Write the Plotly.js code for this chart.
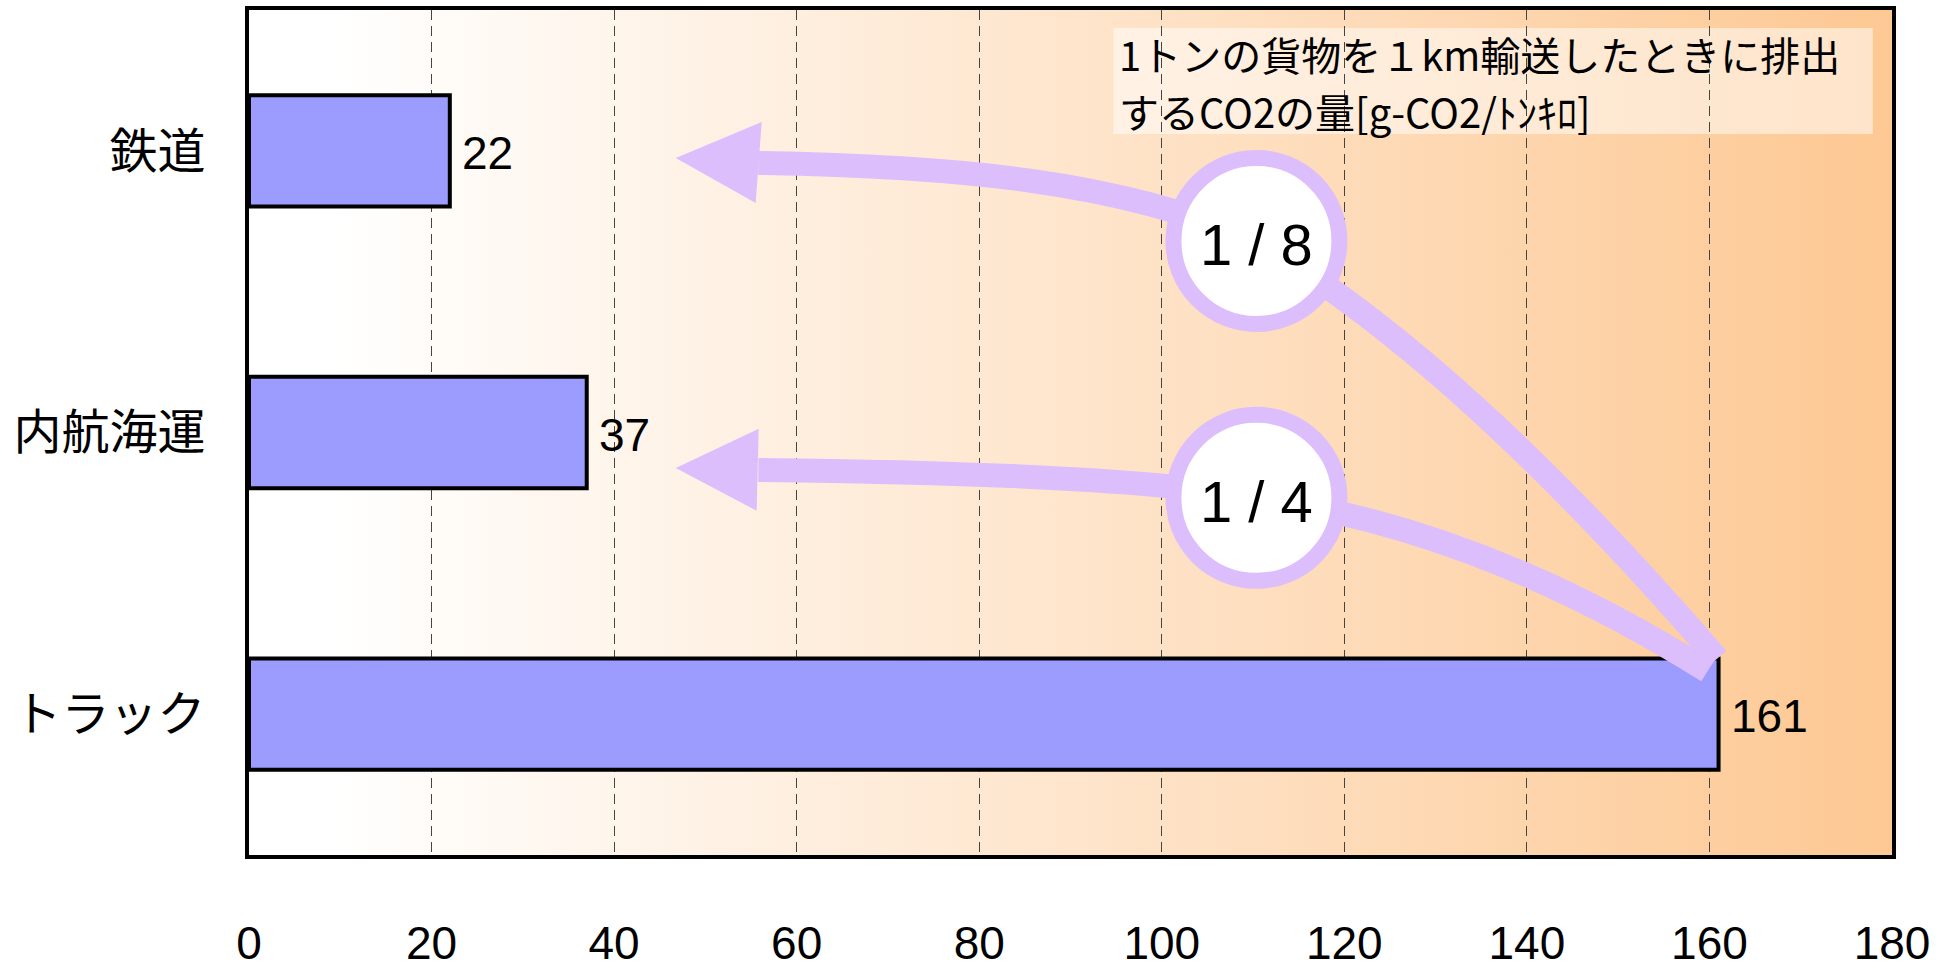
<!DOCTYPE html>
<html>
<head>
<meta charset="utf-8">
<script src="https://cdn.plot.ly/plotly-3.0.1.min.js"></script>
<style>html,body{margin:0;padding:0;background:#fff;}#chart{width:1946px;height:971px;}</style>
</head>
<body>
<div id="chart"></div>
<script>
// ---- data ----
const categories = ['鉄道', '内航海運', 'トラック'];
const values = [22, 37, 161];
const xTickVals = [0, 20, 40, 60, 80, 100, 120, 140, 160, 180];
const xTickText = ['0', '20', '40', '60', '80', '100', '120', '140', '160', '180'];
const ratioLabels = ['1 / 8', '1 / 4'];
const noteLines = ['1トンの貨物を１km輸送したときに排出', 'するCO2の量[g-CO2/ﾄﾝｷﾛ]'];

// ---- style ----
const NUM = '"Liberation Sans", Arial, sans-serif';
const JP = '"Noto Sans CJK JP", sans-serif';
const LAV = '#DCBEFC';
const BAR_W = 0.395;

// annotation geometry (data units): arrows from the truck bar to the other modes
const truckEnd = [values[2] - 0.15, 2 - BAR_W / 2];
const arrows = [
  { tip: [46.75, 0.025], headTop: [56.17, -0.102], headBot: [55.51, 0.185],
    p0: [55.8, 0.043], p1: [76.75, 0.054], p2: [95.4, 0.104], circle: [110.37, 0.32],
    ctrl: [132.6, 0.7425], end: truckEnd },
  { tip: [46.75, 1.126], headTop: [55.84, 0.987], headBot: [55.62, 1.278],
    p0: [55.8, 1.133], p1: [76.75, 1.14], p2: [98.65, 1.161], circle: [110.37, 1.232],
    ctrl: [134.8, 1.339], end: [values[2] - 1.2, truckEnd[1] + 0.045] }
];

const pt = p => p[0] + ',' + p[1];
const shapes = [];
// translucent box behind the note
shapes.push({ type: 'rect', xref: 'x', yref: 'y', layer: 'below',
  x0: 94.7, x1: 177.9, y0: -0.436, y1: -0.06,
  fillcolor: 'rgba(255,255,255,0.5)', line: { width: 0 } });
arrows.forEach(a => {
  shapes.push({ type: 'path', xref: 'x', yref: 'y', layer: 'above',
    path: 'M' + pt(a.p0) + ' C' + pt(a.p1) + ' ' + pt(a.p2) + ' ' + pt(a.circle),
    line: { color: LAV, width: 24 } });
  shapes.push({ type: 'path', xref: 'x', yref: 'y', layer: 'above',
    path: 'M' + pt(a.circle) + ' Q' + pt(a.ctrl) + ' ' + pt(a.end),
    line: { color: LAV, width: 24 } });
  shapes.push({ type: 'path', xref: 'x', yref: 'y', layer: 'above',
    path: 'M' + pt(a.tip) + ' L' + pt(a.headTop) + ' L' + pt(a.headBot) + ' Z',
    fillcolor: LAV, line: { width: 0 } });
});
arrows.forEach(a => {
  shapes.push({ type: 'circle', layer: 'above', xref: 'x', yref: 'y',
    xsizemode: 'pixel', ysizemode: 'pixel', xanchor: a.circle[0], yanchor: a.circle[1],
    x0: -83, x1: 83, y0: -83, y1: 83,
    fillcolor: '#FFFFFF', line: { color: LAV, width: 16 } });
});

const annotations = [];
categories.forEach((c, i) => {
  annotations.push({ x: values[i], y: c, xref: 'x', yref: 'y', text: String(values[i]),
    showarrow: false, xanchor: 'left', yanchor: 'middle', xshift: 10, yshift: -2,
    font: { family: NUM, size: 46, color: '#000' } });
});
arrows.forEach((a, i) => {
  annotations.push({ x: a.circle[0], y: a.circle[1], xref: 'x', yref: 'y', text: ratioLabels[i],
    showarrow: false, xanchor: 'center', yanchor: 'middle', yshift: -4,
    font: { family: NUM, size: 58, color: '#000' } });
});
const noteY = [-0.344, -0.1415];
noteLines.forEach((t, i) => {
  annotations.push({ x: 95.2, y: noteY[i], xref: 'x', yref: 'y', text: t, align: 'left',
    showarrow: false, xanchor: 'left', yanchor: 'middle', borderpad: 0,
    font: { family: JP, size: 40, color: '#000' } });
});

const gradSvg = '<svg xmlns="http://www.w3.org/2000/svg" width="100" height="100" preserveAspectRatio="none">' +
  '<defs><linearGradient id="g" x1="0" y1="0" x2="1" y2="0">' +
  '<stop offset="0" stop-color="#FFFFFF"/><stop offset="0.05" stop-color="#FFFFFF"/><stop offset="1" stop-color="#FDC893"/>' +
  '</linearGradient></defs><rect width="100" height="100" fill="url(#g)"/></svg>';

const trace = {
  type: 'bar', orientation: 'h', x: values, y: categories, width: BAR_W,
  marker: { color: '#9C9CFF', line: { color: '#000', width: 4 } },
  hoverinfo: 'skip', cliponaxis: false
};

const layout = {
  width: 1946, height: 971,
  margin: { l: 249, r: 54, t: 10, b: 116 },
  paper_bgcolor: '#FFFFFF', plot_bgcolor: 'rgba(0,0,0,0)',
  showlegend: false,
  images: [{ source: 'data:image/svg+xml;charset=utf-8,' + encodeURIComponent(gradSvg),
    xref: 'paper', yref: 'paper', x: 0, y: 1, sizex: 1, sizey: 1,
    xanchor: 'left', yanchor: 'top', sizing: 'stretch', layer: 'below' }],
  xaxis: { range: [0, 180], tickvals: xTickVals, ticktext: xTickText, ticks: '',
    showgrid: true, gridcolor: '#444', gridwidth: 1, griddash: '10px,6px',
    zeroline: false, showline: true, mirror: true, linecolor: '#000', linewidth: 4,
    ticklabelstandoff: 45, tickfont: { family: NUM, size: 46, color: '#000' } },
  yaxis: { type: 'category', categoryorder: 'array', categoryarray: categories,
    range: [2.5, -0.5], showgrid: false, zeroline: false, ticks: '',
    showline: true, mirror: true, linecolor: '#000', linewidth: 4,
    ticklabelstandoff: 30, tickfont: { family: JP, size: 48, color: '#000' } },
  shapes: shapes, annotations: annotations
};

Plotly.newPlot('chart', [trace], layout, { staticPlot: true, displayModeBar: false });
</script>
</body>
</html>
